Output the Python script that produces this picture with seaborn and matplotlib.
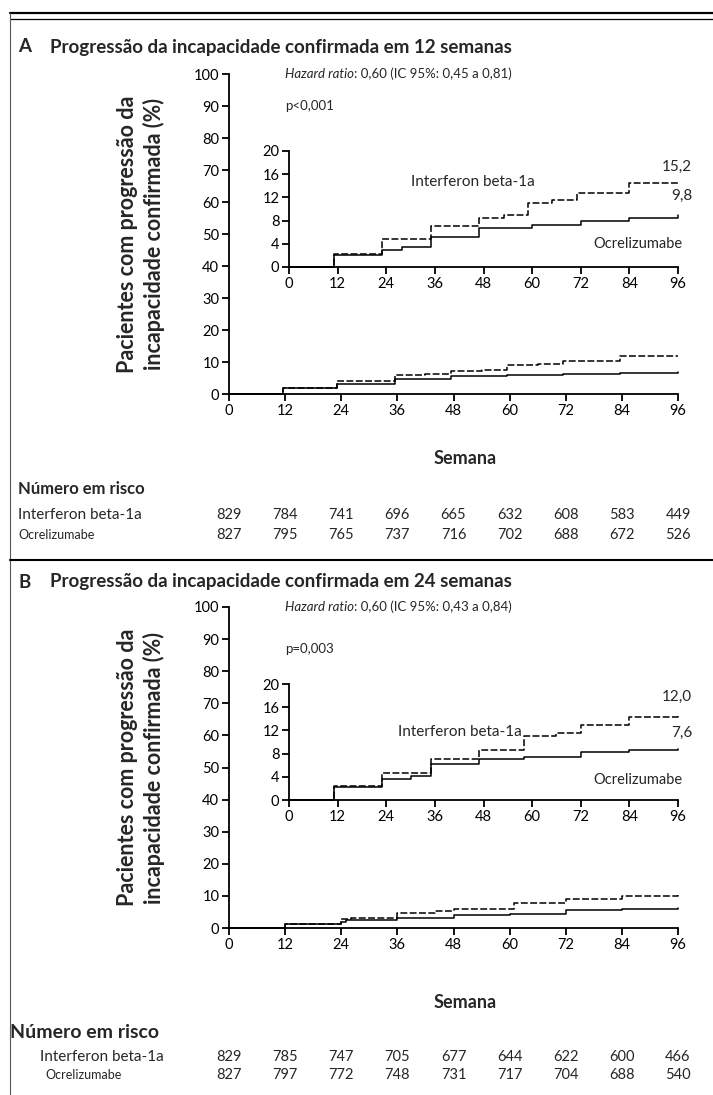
import matplotlib
matplotlib.use("Agg")
import matplotlib.pyplot as plt
import seaborn as sns
from matplotlib.lines import Line2D
from matplotlib.transforms import blended_transform_factory

sns.set_theme(style="ticks")
plt.rcParams['font.family'] = ['Lato', 'DejaVu Sans']

# ---------------- data ----------------
week_ticks = [0, 12, 24, 36, 48, 60, 72, 84, 96]
main_yticks = [0, 10, 20, 30, 40, 50, 60, 70, 80, 90, 100]
inset_yticks = [0, 4, 8, 12, 16, 20]

# Panel A - main plot (step curves, % with progression)
a_main_ifn_w = [0, 11.5, 23, 35.5, 42, 47.5, 54, 59.5, 66, 71.5, 83.5, 96]
a_main_ifn_v = [0, 2.0, 4.0, 5.8, 6.2, 7.2, 7.5, 9.0, 9.4, 10.3, 11.9, 11.9]
a_main_ocr_w = [0, 11.5, 23, 35.5, 47.5, 59.5, 71.5, 83.5, 96]
a_main_ocr_v = [0, 1.9, 3.0, 4.7, 5.5, 5.9, 6.4, 6.7, 6.8]
# Panel A - inset
a_ins_ifn_w = [0, 11, 23, 35, 47, 53, 59, 65, 71, 84, 96]
a_ins_ifn_v = [0, 2.3, 4.8, 7.1, 8.4, 8.9, 11.0, 11.5, 12.7, 14.4, 14.6]
a_ins_ocr_w = [0, 11, 23, 28, 35, 47, 60, 72, 84, 96]
a_ins_ocr_v = [0, 2.0, 3.0, 3.5, 5.2, 6.8, 7.2, 8.0, 8.4, 8.9]

# Panel B - main plot
b_main_ifn_w = [0, 12, 24, 26, 36, 44, 48, 61, 72, 84, 96]
b_main_ifn_v = [0, 1.1, 2.7, 3.2, 4.8, 5.4, 6.0, 7.9, 9.0, 10.1, 10.3]
b_main_ocr_w = [0, 12, 24, 25, 36, 48, 60, 72, 84, 96]
b_main_ocr_v = [0, 1.1, 1.8, 2.5, 3.1, 4.0, 4.5, 5.5, 6.0, 6.2]
# Panel B - inset
b_ins_ifn_w = [0, 11, 23, 35, 47, 58, 66, 72, 84, 96]
b_ins_ifn_v = [0, 2.5, 4.6, 7.0, 8.6, 11.0, 11.6, 12.9, 14.3, 14.8]
b_ins_ocr_w = [0, 11, 23, 30, 35, 47, 58, 72, 84, 96]
b_ins_ocr_v = [0, 2.3, 3.7, 4.2, 6.2, 7.0, 7.4, 8.3, 8.7, 8.8]

# Numbers at risk
a_risk_ifn = [829, 784, 741, 696, 665, 632, 608, 583, 449]
a_risk_ocr = [827, 795, 765, 737, 716, 702, 688, 672, 526]
b_risk_ifn = [829, 785, 747, 705, 677, 644, 622, 600, 466]
b_risk_ocr = [827, 797, 772, 748, 731, 717, 704, 688, 540]

a_title = "Progressão da incapacidade confirmada em 12 semanas"
b_title = "Progressão da incapacidade confirmada em 24 semanas"
a_hr = ": 0,60 (IC 95%: 0,45 a 0,81)"
b_hr = ": 0,60 (IC 95%: 0,43 a 0,84)"
a_p = "p<0,001"
b_p = "p=0,003"
a_end = ["15,2", "9,8"]
b_end = ["12,0", "7,6"]
group_ifn = "Interferon beta-1a"
group_ocr = "Ocrelizumabe"
ylabel = "Pacientes com progressão da\nincapacidade confirmada (%)"

# ---------------- layout ----------------
W, H = 713, 1095
fig = plt.figure(figsize=(W / 100, H / 100), dpi=100)
fig.patch.set_facecolor("white")


def fx(x):
    return x / W


def fy(y):
    return 1 - y / H


def make_axes(left, top, right, bottom):
    return fig.add_axes([fx(left), fy(bottom), (right - left) / W, (bottom - top) / H])


DASH = (0, (4.5, 1.6))


def style_axes(ax, ymax, yticks, fs):
    ax.set_xlim(0, 96)
    ax.set_ylim(0, ymax)
    ax.set_xticks(week_ticks)
    ax.set_yticks(yticks)
    ax.set_facecolor("none")
    for s in ["top", "right"]:
        ax.spines[s].set_visible(False)
    for s in ["left", "bottom"]:
        ax.spines[s].set_color("black")
        ax.spines[s].set_linewidth(1.3)
    ax.tick_params(axis="both", direction="out", length=5, width=1.3,
                   colors="black", labelsize=fs, pad=2)
    ax.set_xlabel("")
    ax.set_ylabel("")
    ax.grid(False)


def curve(ax, w, v, dashed):
    sns.lineplot(x=w, y=v, ax=ax, color="black", lw=1.1,
                 drawstyle="steps-post", estimator=None, sort=False,
                 errorbar=None, linestyle=DASH if dashed else "-",
                 clip_on=False)


def panel(cfg):
    # title
    fig.text(fx(18), fy(cfg["title_y"]), cfg["letter"], fontsize=13.5,
             fontweight="bold", ha="left", va="center")
    fig.text(fx(50), fy(cfg["title_y"]), cfg["title"], fontsize=13.5,
             fontweight="bold", ha="left", va="center")

    ax = make_axes(229, cfg["main_top"], 678, cfg["main_bot"])
    curve(ax, cfg["m_ifn"][0], cfg["m_ifn"][1], True)
    curve(ax, cfg["m_ocr"][0], cfg["m_ocr"][1], False)
    style_axes(ax, 100, main_yticks, 10.5)

    # y label
    fig.text(fx(141), fy((cfg["main_top"] + cfg["main_bot"]) / 2), ylabel,
             rotation=90, ha="center", va="center", fontsize=15.5,
             fontweight="bold", linespacing=1.25, multialignment="center")

    # hazard ratio and p
    t1 = ax.text(12, 100, "Hazard ratio", fontsize=9.5, style="italic",
                 ha="left", va="center")
    ax.annotate(cfg["hr"], xy=(1, 0), xycoords=t1, fontsize=9.5,
                ha="left", va="bottom")
    ax.text(12, cfg["p_y"], cfg["p"], fontsize=9.5, ha="left", va="center")

    # inset
    ai = make_axes(289, cfg["ins_top"], 678, cfg["ins_bot"])
    curve(ai, cfg["i_ifn"][0], cfg["i_ifn"][1], True)
    curve(ai, cfg["i_ocr"][0], cfg["i_ocr"][1], False)
    style_axes(ai, 20, inset_yticks, 10.5)
    ai.text(cfg["lab_x"], cfg["lab_ifn_y"], group_ifn, fontsize=11,
            ha="left", va="center")
    ai.text(97, cfg["lab_ocr_y"], group_ocr, fontsize=10.5, ha="right",
            va="center")
    ai.text(99.5, cfg["end_y"][0], cfg["end"][0], fontsize=11, ha="right",
            va="center")
    ai.text(99.5, cfg["end_y"][1], cfg["end"][1], fontsize=11, ha="right",
            va="center")

    # x label
    fig.text(fx(465), fy(cfg["semana_y"]), "Semana", fontsize=13,
             fontweight="bold", ha="center", va="center")

    # numbers at risk
    fig.text(fx(cfg["num_x"]), fy(cfg["num_y"]), "Número em risco",
             fontsize=cfg["num_fs"], fontweight="bold", ha="left", va="center")
    fig.text(fx(cfg["r1_x"]), fy(cfg["r1_y"]), group_ifn, fontsize=11,
             ha="left", va="center")
    fig.text(fx(cfg["r2_x"]), fy(cfg["r2_y"]), group_ocr, fontsize=9,
             ha="left", va="center")
    tr = blended_transform_factory(ax.transData, fig.transFigure)
    for wk, n1, n2 in zip(week_ticks, cfg["risk"][0], cfg["risk"][1]):
        fig.text(wk, fy(cfg["r1_y"]), str(n1), transform=tr, fontsize=10.5,
                 ha="center", va="center")
        fig.text(wk, fy(cfg["r2_y"]), str(n2), transform=tr, fontsize=10.5,
                 ha="center", va="center")


panel(dict(letter="A", title=a_title, title_y=47, main_top=74, main_bot=394,
           ins_top=151, ins_bot=267, hr=a_hr, p=a_p, p_y=90,
           m_ifn=(a_main_ifn_w, a_main_ifn_v), m_ocr=(a_main_ocr_w, a_main_ocr_v),
           i_ifn=(a_ins_ifn_w, a_ins_ifn_v), i_ocr=(a_ins_ocr_w, a_ins_ocr_v),
           lab_x=30, lab_ifn_y=14.6, lab_ocr_y=4.0, end=a_end, end_y=(17.3, 12.2),
           semana_y=458, num_x=18, num_y=489, num_fs=12,
           r1_x=18, r1_y=515, r2_x=18, r2_y=535,
           risk=(a_risk_ifn, a_risk_ocr)))

panel(dict(letter="B", title=b_title, title_y=582, main_top=607, main_bot=928,
           ins_top=684, ins_bot=800, hr=b_hr, p=b_p, p_y=87,
           m_ifn=(b_main_ifn_w, b_main_ifn_v), m_ocr=(b_main_ocr_w, b_main_ocr_v),
           i_ifn=(b_ins_ifn_w, b_ins_ifn_v), i_ocr=(b_ins_ocr_w, b_ins_ocr_v),
           lab_x=27, lab_ifn_y=11.8, lab_ocr_y=3.4, end=b_end, end_y=(17.8, 11.6),
           semana_y=1002, num_x=10, num_y=1032, num_fs=14,
           r1_x=40, r1_y=1057, r2_x=45, r2_y=1075,
           risk=(b_risk_ifn, b_risk_ocr)))

# frame lines
fig.add_artist(Line2D([fx(10), 1], [fy(13), fy(13)], color="black", lw=1.6))
fig.add_artist(Line2D([fx(10), 1], [fy(19), fy(19)], color="black", lw=0.9))
fig.add_artist(Line2D([fx(10), fx(10)], [fy(13), 0], color="0.35", lw=0.8))
fig.add_artist(Line2D([fx(10), 1], [fy(560), fy(560)], color="black", lw=1.5))

fig.savefig("out.png", dpi=100, facecolor="white")
